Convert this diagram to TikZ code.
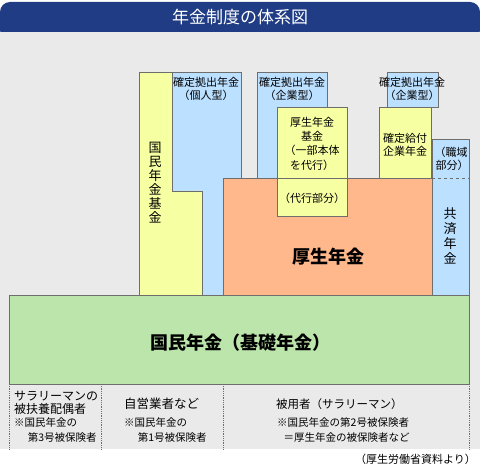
\documentclass[tikz,border=0pt]{standalone}
\usepackage{fontspec}
\setmainfont{Noto Sans CJK JP}
\definecolor{hdblue}{HTML}{1F3C84}
\definecolor{bggray}{HTML}{EAEAEA}
\definecolor{edge}{HTML}{6E6E6E}
\definecolor{kikin}{HTML}{F7FFA3}
\definecolor{dcblue}{HTML}{BCE0FF}
\definecolor{kosei}{HTML}{FFB88C}
\definecolor{kiso}{HTML}{BCE5AC}

\begin{document}
\begin{tikzpicture}[x=1pt,y=-1pt,inner sep=0pt,
  box/.style={draw=edge,line width=.8pt},
  sep/.style={draw=edge,densely dotted,line width=.8pt},
  small/.style={font=\fontsize{11}{12.5}\selectfont,align=center},
  vert/.style={font=\fontsize{13}{14}\selectfont,align=center},
  big/.style={font=\bfseries\fontsize{18}{20}\selectfont}]
 \useasboundingbox(0,0)rectangle(480,468);
 \fill[white](0,0)rectangle(480,468);
 \fill[hdblue,rounded corners=10pt](0,2)rectangle(480,40);
 \fill[bggray](0,32)rectangle(480,449);
 \node[text=white,font=\fontsize{17}{20}\selectfont](title)at(240,17){年金制度の体系図};
 % upper layers
 \fill[dcblue,box](172,72)rectangle(241,295);
 \fill[dcblue,box](257,72)rectangle(327,178);
 \fill[dcblue,box](387,72)rectangle(438,107);
 \fill[kosei,box](223,178)rectangle(432,295);
 \fill[kikin,box](139,72)--(172,72)--(172,191)--(202,191)--(202,295)--(139,295)--cycle;
 \fill[kikin,box](277,107)rectangle(347,216);
 \draw[box](277,178)--(347,178);
 \fill[kikin,box](379,107)rectangle(431,178);
 \fill[dcblue,box](432,139)rectangle(469,295);
 \draw[edge,dashed,line width=.7pt](432,178)--(469,178);
 \node[small](dcind)at(206,89){確定拠出年金\\（個人型）};
 \node[small](dcent)at(292,89){確定拠出年金\\（企業型）};
 \node[small](dcent2)at(412,89){確定拠出年金\\（企業型）};
 \node[vert](kikinlbl)at(155,182.5){国\\民\\年\\金\\基\\金};
 \node[small,font=\fontsize{11}{14.3}\selectfont](kkikin)at(312,143.5){厚生年金\\基金\\（一部本体\\を代行）};
 \node[small](daiko)at(312,198){（代行部分）};
 \node[small,font=\fontsize{11}{13}\selectfont](dbenefit)at(405,144.5){確定給付\\企業年金};
 \node[small,font=\fontsize{11}{13}\selectfont](shokuiki)at(451,158.5){（職域\\\ 部分）};
 \node[vert,font=\fontsize{13}{15}\selectfont](kyosai)at(450,235.5){共\\済\\年\\金};
 \node[big](koseilbl)at(328,257){厚生年金};
 % base layer
 \fill[kiso,box](9,295)rectangle(469,384);
 \node[big](kisolbl)at(240,343){国民年金（基礎年金）};
 % insured groups
 \foreach \x in {9,101,223,469} \draw[sep](\x,384)--(\x,449);
 \node[anchor=west,align=left,font=\fontsize{12}{13}\selectfont](grp3)at(14,402.5){サラリーマンの\\被扶養配偶者};
 \node[anchor=west,align=left,font=\fontsize{10.5}{15}\selectfont](no3)at(14,430.5){※国民年金の\\\hspace*{1.3em}第3号被保険者};
 \node[anchor=west,font=\fontsize{12.5}{14}\selectfont](grp1)at(124,404){自営業者など};
 \node[anchor=west,align=left,font=\fontsize{10.5}{15}\selectfont](no1)at(124,430.5){※国民年金の\\\hspace*{1.3em}第1号被保険者};
 \node[anchor=west,font=\fontsize{11.5}{14}\selectfont](grp2)at(276,404){被用者（サラリーマン）};
 \node[anchor=west,align=left,font=\fontsize{10.5}{15}\selectfont](no2)at(277,430.5){※国民年金の第2号被保険者\\\hspace*{.6em}＝厚生年金の被保険者など};
 \node[anchor=east,font=\fontsize{11}{13}\selectfont](src)at(476,459){（厚生労働省資料より）};
\end{tikzpicture}
\end{document}
